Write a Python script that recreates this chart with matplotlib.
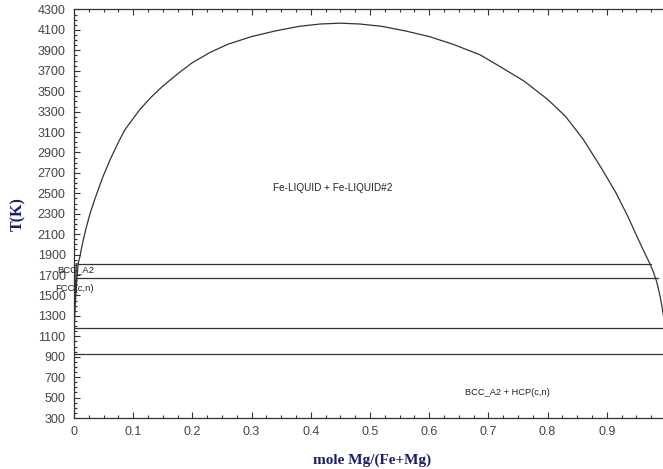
import numpy as np
from matplotlib import pyplot as plt
from matplotlib.ticker import MultipleLocator

# Fe-Mg phase diagram (mole fraction Mg vs temperature)
# miscibility gap Fe-LIQUID + Fe-LIQUID#2
gap_x = [0.007, 0.010, 0.014, 0.020, 0.027, 0.035, 0.048, 0.061, 0.075, 0.086,
         0.111, 0.130, 0.150, 0.175, 0.200, 0.230, 0.260, 0.300, 0.340, 0.380,
         0.416, 0.450, 0.483, 0.520, 0.560, 0.600, 0.640, 0.686, 0.720, 0.760,
         0.800, 0.830, 0.860, 0.890, 0.915, 0.935, 0.950, 0.962, 0.972, 0.978,
         0.984, 0.989, 0.993, 0.997]
gap_T = [1811, 1880, 2000, 2150, 2300, 2440, 2650, 2830, 3000, 3123,
         3319, 3440, 3550, 3670, 3780, 3880, 3960, 4035, 4090, 4135,
         4158, 4166, 4158, 4135, 4090, 4035, 3960, 3856, 3740, 3600,
         3420, 3255, 3030, 2755, 2510, 2280, 2090, 1940, 1820, 1740,
         1640, 1520, 1400, 1250]

# Fe-rich solubility boundaries
left1_x = [0.007, 0.005, 0.002, 0.0005]
left1_T = [1811, 1667, 1400, 1185]
left2_x = [0.004, 0.003, 0.001, 0.0]
left2_T = [1811, 1667, 1400, 1250]

# invariant lines: (T, x start, x end)
inv_T = [1811, 1667, 1185, 923]
inv_x0 = [0.007, 0.004, 0.0, 0.0]
inv_x1 = [0.974, 0.986, 1.0, 1.0]

labels = ["Fe-LIQUID + Fe-LIQUID#2", "BCC_A2", "FCC(c,n)", "BCC_A2 + HCP(c,n)"]
label_x = [0.336, -0.029, -0.032, 0.66]
label_T = [2557, 1756, 1571, 545]
label_size = [7.2, 6.8, 6.8, 6.7]

navy = "#1c1c6e"
lc = "#333333"

plt.rcParams['font.family'] = ['Liberation Sans', 'DejaVu Sans']

fig = plt.figure(figsize=(6.63, 4.69), dpi=100)
ax = fig.add_axes([74/663, 51/469, 592/663, 408.5/469])

ax.plot(gap_x, gap_T, color=lc, lw=0.9)
ax.plot(left1_x, left1_T, color=lc, lw=0.9)
ax.plot(left2_x, left2_T, color=lc, lw=0.9)
for T, a, b in zip(inv_T, inv_x0, inv_x1):
    ax.plot([a, b], [T, T], color=lc, lw=0.9)

for s, x, T, fs in zip(labels, label_x, label_T, label_size):
    ax.text(x, T, s, fontsize=fs, color="#222222", ha="left", va="center")

ax.set_xlim(0, 1)
ax.set_ylim(300, 4300)
ax.xaxis.set_major_locator(MultipleLocator(0.1))
ax.xaxis.set_minor_locator(MultipleLocator(0.025))
ax.yaxis.set_major_locator(MultipleLocator(200))
ax.yaxis.set_minor_locator(MultipleLocator(50))
ax.set_xticks(np.arange(0, 1.0, 0.1))
ax.set_xticklabels(["0"] + ["%.1f" % v for v in np.arange(0.1, 0.95, 0.1)])
ax.set_yticks(np.arange(300, 4301, 200))

ax.tick_params(which="both", direction="in", top=True, right=False,
               colors=lc, labelcolor="#444444", labelsize=9, width=0.8)
ax.tick_params(which="major", length=4, pad=6)
ax.tick_params(which="minor", length=2)
for side in ["left", "bottom", "top"]:
    ax.spines[side].set_color(lc)
    ax.spines[side].set_linewidth(0.9)
ax.spines["right"].set_visible(False)

fig.text(372/663, 1 - 460/469, "mole Mg/(Fe+Mg)", ha="center", va="center",
         fontsize=11, fontweight="bold", family="Liberation Serif", color=navy)
fig.text(18/663, 1 - 214/469, "T(K)", ha="center", va="center", rotation=90,
         fontsize=11.5, fontweight="bold", family="Liberation Serif", color=navy)

fig.savefig("out.png", dpi=100)
